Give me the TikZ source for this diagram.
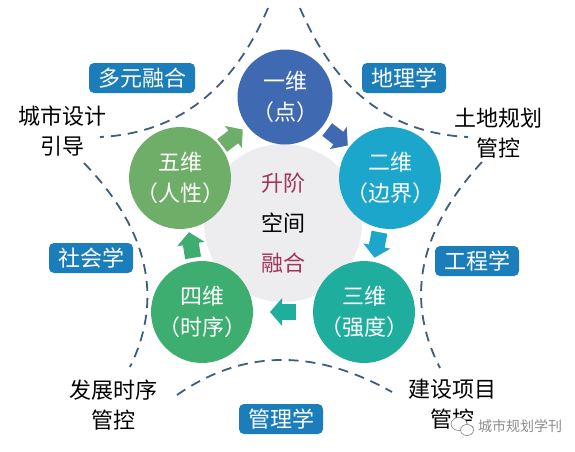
\documentclass[tikz,border=0pt]{standalone}
\usepackage{fontspec}
\setmainfont{Noto Sans CJK SC}
\usetikzlibrary{calc,arrows.meta}
\definecolor{cOne}{HTML}{3F69B0}
\definecolor{cTwo}{HTML}{1DA6CB}
\definecolor{cThree}{HTML}{1FAE9E}
\definecolor{cFour}{HTML}{3DAD70}
\definecolor{cFive}{HTML}{6EAE68}
\definecolor{cGray}{HTML}{EDEDF0}
\definecolor{cRed}{HTML}{A3345A}
\definecolor{cBox}{HTML}{1B7DB9}
\definecolor{cDash}{HTML}{3F5D7C}
\definecolor{wmGray}{HTML}{8C8C8C}
\begin{document}
\begin{tikzpicture}[x=1pt,y=-1pt,
  dim/.style={circle, minimum size=95pt, inner sep=0pt, text=white,
    font=\fontsize{22}{31}\selectfont, align=center},
  tag/.style={fill=cBox, rounded corners=5pt, text=white,
    font=\fontsize{22}{24}\selectfont, inner xsep=9pt, inner ysep=0pt,
    minimum height=30pt},
  lbl/.style={text=black, font=\fontsize{22}{30}\selectfont, align=center},
  flow/.style={line width=16pt, -{Triangle[width=27pt,length=12pt]}},
  starline/.style={draw=cDash, line width=1.8pt, dash pattern=on 10pt off 7pt},
]
\useasboundingbox (0,0) rectangle (575,451);

% core
\node[circle, fill=cGray, minimum size=158pt, inner sep=0pt,
  font=\fontsize{22}{40}\selectfont, align=center] (core) at (283,223)
  {\textcolor{cRed}{升阶}\\空间\\\textcolor{cRed}{融合}};

% dimension circles (placed first as coordinates for arrows)
\coordinate (p1) at (285,97);
\coordinate (p2) at (390,178);
\coordinate (p3) at (364,312);
\coordinate (p4) at (202,312);
\coordinate (p5) at (180,178);

% arrows
\coordinate (m12) at ($(p1)!0.5!(p2)$);
\coordinate (m23) at ($(p2)!0.5!(p3)$);
\coordinate (m34) at ($(p3)!0.5!(p4)$);
\coordinate (m45) at ($(p4)!0.5!(p5)$);
\coordinate (m51) at ($(p5)!0.5!(p1)$);
\draw[flow, cOne]   ($(m12)!13pt!(p1)$) -- ($(m12)!13pt!(p2)$);
\draw[flow, cTwo]   ($(m23)!13pt!(p2)$) -- ($(m23)!13pt!(p3)$);
\draw[flow, cThree] ($(m34)!13pt!(p3)$) -- ($(m34)!13pt!(p4)$);
\draw[flow, cFour]  ($(m45)!13pt!(p4)$) -- ($(m45)!13pt!(p5)$);
\draw[flow, cFive]  ($(m51)!13pt!(p5)$) -- ($(m51)!13pt!(p1)$);

\node[dim, fill=cOne]   (d1) at (p1) {一维\\（点）};
\node[dim, fill=cTwo]   (d2) at (p2) {二维\\（边界）};
\node[dim, fill=cThree] (d3) at (p3) {三维\\（强度）};
\node[dim, fill=cFour]  (d4) at (p4) {四维\\（时序）};
\node[dim, fill=cFive]  (d5) at (p5) {五维\\（人性）};

% dashed star arcs
\coordinate (a1) at (268,8);
\coordinate (a2) at (100,137);
\coordinate (b1) at (300,8);
\coordinate (b2) at (468,137);
\coordinate (c1) at (482,162);
\coordinate (c2) at (440,368);
\coordinate (e1) at (84,163);
\coordinate (e2) at (130,367);
\coordinate (f1) at (177,395);
\coordinate (f2) at (392,392);
\draw[starline] (a1) .. controls (233.3,90) and (177.3,133.3) .. (a2);
\draw[starline] (b1) .. controls (334.7,90) and (390.7,133.3) .. (b2);
\draw[starline] (c1) .. controls (418.7,230.7) and (404.7,299.3) .. (c2);
\draw[starline] (e1) .. controls (149.3,230.7) and (163.3,299.3) .. (e2);
\draw[starline] (f1) .. controls (242.7,349.3) and (314.3,348.3) .. (f2);

% tags
\node[tag] (t1) at (142,78) {多元融合};
\node[tag] (t2) at (404,78) {地理学};
\node[tag] (t3) at (477,261) {工程学};
\node[tag] (t4) at (91,258) {社会学};
\node[tag] (t5) at (281,419) {管理学};

% labels
\node[lbl] (l1) at (62,131) {城市设计\\引导};
\node[lbl] (l2) at (498,133) {土地规划\\管控};
\node[lbl] (l3) at (452,404) {建设项目\\管控};
\node[lbl] (l4) at (113,405) {发展时序\\管控};

% watermark
\draw[wmGray, fill=white, line width=0.7pt] (459,424) ellipse [x radius=8pt, y radius=6.5pt];
\draw[wmGray, fill=white, line width=0.7pt] (467,430) ellipse [x radius=6.5pt, y radius=5.5pt];
\node[font=\fontsize{14}{14}\selectfont, text=wmGray] (wm) at (520,426) {城市规划学刊};
\end{tikzpicture}
\end{document}
